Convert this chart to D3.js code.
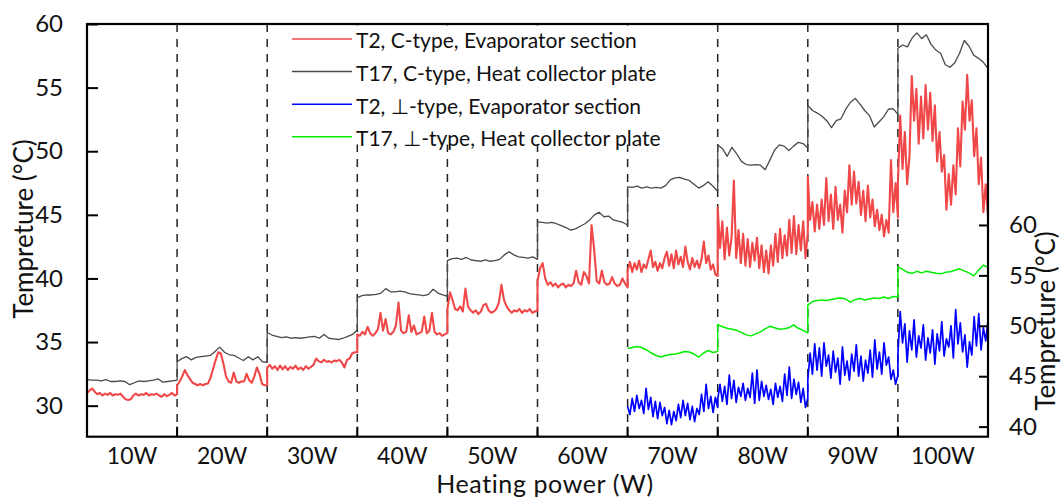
<!DOCTYPE html>
<html>
<head>
<meta charset="utf-8">
<script src="https://cdn.jsdelivr.net/npm/d3@7"></script>
<style>
  html, body { margin: 0; padding: 0; background: #fff; }
  svg text { font-family: Lato, "DejaVu Sans", sans-serif; fill: #111; }
</style>
</head>
<body>
<svg id="chart" width="1062" height="499"></svg>
<script>
// Heating power levels (one test stage each)
const powerLabels = ["10W","20W","30W","40W","50W","60W","70W","80W","90W","100W"];
const leftTicks = [30, 35, 40, 45, 50, 55, 60];
const rightTicks = [40, 45, 50, 55, 60];

// T2, C-type, evaporator section (left axis), samples per power stage
const t2C = [
  [31.0,31.2,31.35,31.1,30.9,31.0,30.8,30.95,30.85,31.0,30.8,30.9,30.85,30.95,30.7,30.5,30.45,30.5,30.8,30.95,30.8,30.9,30.85,31.0,30.8,30.9,30.85,30.95,30.8,30.7,30.9,30.75,30.85,31.0,30.8,30.9],
  [31.6,31.9,32.3,32.8,32.4,32.1,31.8,31.7,31.6,31.7,31.6,31.7,31.75,32.2,32.9,33.6,34.2,34.1,33.3,32.3,31.9,31.8,32.6,31.9,31.8,31.9,31.9,32.5,32.0,31.8,32.3,33.0,32.5,31.7,31.6,31.6],
  [33.0,33.2,32.9,33.1,32.8,33.15,32.85,33.1,32.8,33.05,32.9,33.15,32.85,33.0,32.8,33.1,32.9,33.05,33.2,33.7,33.5,33.4,33.6,33.45,33.5,33.4,33.55,33.5,33.6,33.4,33.0,33.6,33.7,34.1,34.2,34.2],
  [35.6,35.5,35.8,35.6,36.2,35.7,35.5,35.7,36.0,37.3,35.9,36.8,35.7,35.6,35.8,36.3,38.1,35.9,35.7,35.8,37.1,35.8,36.3,35.6,35.7,35.8,37.0,35.7,35.9,37.3,35.8,35.6,35.7,35.5,35.6,35.7],
  [37.6,38.9,38.3,37.6,37.5,37.8,37.4,39.2,37.8,37.5,37.3,37.5,37.2,37.4,37.9,38.0,37.5,37.3,37.4,37.6,38.1,39.5,38.3,37.8,37.5,37.3,37.5,37.4,37.6,37.3,37.5,37.4,37.6,37.3,37.4,37.5],
  [39.8,40.8,41.2,40.0,39.5,39.7,39.4,39.6,39.3,39.5,39.6,39.3,39.5,39.4,39.6,40.6,39.7,39.5,40.5,40.2,39.6,44.2,42.3,39.8,39.6,40.6,39.7,39.5,39.6,40.1,39.6,39.4,39.5,40.0,39.6,39.3],
  [40.6,41.3,40.5,41.2,40.7,41.4,40.5,41.1,40.8,41.5,42.2,40.9,41.3,40.6,41.2,40.8,41.6,42.1,41.0,41.9,40.8,42.2,41.1,41.7,40.9,42.5,41.3,40.7,41.6,40.9,41.4,40.8,41.5,42.9,41.2,41.8,40.7,41.1,40.3,40.2],
  [45.6,42.4,44.5,41.5,44.0,41.8,43.2,47.7,41.6,43.8,41.2,43.5,41.0,43.1,40.9,42.8,41.4,43.2,40.8,42.6,40.5,42.2,40.4,42.6,41.0,43.5,41.3,43.9,41.6,43.4,41.8,44.6,42.0,44.9,41.9,44.2,42.2,44.5,41.6,43.6],
  [48.0,44.6,46.0,43.7,45.8,43.9,46.2,44.2,47.9,44.5,46.6,43.9,47.2,44.6,45.8,43.6,46.9,45.2,48.9,45.8,48.4,45.9,47.6,45.0,46.9,44.5,47.3,44.8,46.2,44.1,45.4,43.8,45.0,43.3,44.6,43.6,49.3,45.2,47.5,44.8],
  [47.5,52.8,48.6,51.5,47.4,49.6,55.9,52.4,54.9,50.6,54.3,51.0,55.2,51.7,54.6,50.8,53.6,49.2,51.5,48.4,49.7,45.4,48.2,45.8,48.9,46.6,51.8,48.8,53.9,51.7,56.0,52.4,54.0,49.6,51.8,47.4,49.5,45.2,47.4,44.9]
];

// T17, C-type, heat collector plate (left axis)
const t17C = [
  [32.05,32.0,32.0,31.95,32.05,31.9,31.9,31.95,31.9,31.65,31.8,31.95,31.9,31.95,32.0,32.1,31.85,31.9,31.95,32.0],
  [33.45,33.7,33.85,33.6,33.8,33.85,33.9,33.95,34.25,34.6,34.2,34.0,33.95,33.75,33.55,33.85,33.6,33.85,33.45,33.4],
  [35.75,35.55,35.45,35.35,35.4,35.3,35.35,35.3,35.35,35.4,35.45,35.3,35.6,35.3,35.25,35.2,35.3,35.45,35.6,35.95],
  [38.5,38.65,38.7,38.7,38.75,38.85,39.2,38.95,38.95,39.0,38.95,38.8,38.75,38.7,38.65,38.75,39.15,38.85,38.7,38.6],
  [41.4,41.55,41.6,41.5,41.65,41.45,41.4,41.35,41.45,41.35,41.4,41.5,41.85,42.1,41.85,41.7,41.65,41.6,41.7,41.5],
  [44.45,44.4,44.35,44.4,44.3,44.15,44.0,43.8,43.9,44.1,44.3,44.6,45.0,45.2,44.85,44.9,44.6,44.5,44.4,44.2],
  [47.2,47.15,47.25,47.1,47.2,47.1,47.15,47.1,47.3,47.75,47.9,47.95,47.8,47.7,47.4,47.1,47.3,47.6,47.25,46.85],
  [50.5,50.2,49.6,50.3,49.8,49.2,48.95,48.9,48.95,48.9,48.55,49.3,50.1,50.5,50.4,50.05,50.4,50.7,50.6,50.25],
  [53.6,53.2,53.0,52.75,52.4,51.85,52.4,52.55,53.3,53.85,54.15,53.7,53.2,52.8,51.9,52.3,52.7,53.3,53.35,52.9],
  [58.1,58.35,58.2,58.9,59.3,58.85,59.15,58.4,57.95,57.7,56.8,56.6,56.95,57.7,58.7,58.25,57.55,57.3,57.0,56.5]
];

// ⊥-type runs start at the 70W stage (right axis)
const perpFirstStage = 6;

// T2, ⊥-type, evaporator section
const t2T = [
  [42.0,41.2,42.8,41.5,43.1,41.8,42.6,41.3,43.8,41.7,42.9,41.0,42.5,40.8,42.4,41.1,41.9,40.3,41.6,40.2,41.5,40.6,42.2,40.9,42.6,41.1,42.3,40.7,42.0,40.5,41.8,41.2,43.2,41.5,44.2,41.8,43.0,41.4,42.9,41.9],
  [42.7,44.2,42.5,44.0,42.2,45.1,42.8,44.6,42.4,43.9,43.0,44.3,42.6,43.8,42.9,45.3,42.3,45.6,42.6,44.5,43.0,44.1,42.7,43.7,42.2,44.3,42.9,44.0,42.5,45.2,43.1,45.9,42.8,44.7,43.2,44.4,42.4,43.8,41.9,42.8],
  [44.6,47.3,45.2,48.2,45.6,47.8,45.0,48.3,46.0,47.1,44.8,47.5,45.4,46.8,44.2,47.9,45.1,46.5,44.6,47.2,45.5,48.1,45.0,47.0,44.5,46.6,45.3,47.6,44.9,48.6,45.7,47.4,45.2,48.3,46.1,46.9,44.7,45.6,44.2,45.1],
  [47.2,51.4,48.3,50.2,46.4,49.5,47.6,50.6,46.9,49.0,47.8,50.1,46.6,48.8,47.3,49.6,46.2,49.2,47.5,50.4,47.0,48.7,47.9,50.0,46.8,51.6,48.2,50.3,47.4,49.1,45.9,48.4,47.1,50.9,48.0,51.2,47.6,49.8,48.5,50.5]
];

// T17, ⊥-type, heat collector plate
const t17T = [
  [47.75,47.85,47.95,47.85,47.6,47.3,47.05,46.9,47.05,47.15,47.2,47.3,47.45,47.4,47.2,46.9,47.3,47.55,47.35,47.45],
  [50.1,49.9,49.75,49.65,49.55,49.35,49.1,49.0,49.2,49.4,49.7,49.95,49.8,49.65,49.7,49.8,50.1,49.75,49.55,49.3],
  [52.05,52.4,52.5,52.55,52.5,52.6,52.7,52.75,52.65,52.35,52.6,52.7,52.55,52.65,52.75,52.7,52.85,52.7,52.9,52.85],
  [55.85,55.6,55.3,55.2,55.4,55.25,55.4,55.3,55.2,55.15,55.3,55.35,55.5,55.65,55.45,55.25,54.95,55.5,56.0,55.8]
];

const legendItems = [
  { label: "T2, C-type, Evaporator section", color: "#f04848" },
  { label: "T17, C-type, Heat collector plate", color: "#4a4a4a" },
  { label: "T2, \u22A5-type, Evaporator section", color: "#0000ff" },
  { label: "T17, \u22A5-type, Heat collector plate", color: "#00ee00" }
];

// ---- layout ----
const plot = { left: 87, right: 988, top: 24, bottom: 436.7 };
const svg = d3.select("#chart");

const x = d3.scaleLinear().domain([0, powerLabels.length]).range([plot.left, plot.right]);
const yL = d3.scaleLinear().domain([27.56, 60]).range([plot.bottom, plot.top]);
const yR = d3.scaleLinear().domain([39.0, 79.93]).range([plot.bottom, plot.top]);

// each stage's samples are spread evenly across that stage's width
function toPoints(stages, firstStage) {
  const pts = [];
  stages.forEach((vals, i) => {
    const n = vals.length;
    vals.forEach((v, j) => pts.push({ t: firstStage + i + j / (n - 1), v }));
  });
  return pts;
}

svg.append("defs").append("clipPath").attr("id", "plotClip")
  .append("rect")
  .attr("x", plot.left).attr("y", plot.top)
  .attr("width", plot.right - plot.left).attr("height", plot.bottom - plot.top);

// stage separators
const bounds = d3.range(1, powerLabels.length);
svg.append("g").selectAll("line").data(bounds).join("line")
  .attr("x1", d => x(d)).attr("x2", d => x(d))
  .attr("y1", plot.top).attr("y2", plot.bottom)
  .attr("stroke", "#222").attr("stroke-width", 1.5)
  .attr("stroke-dasharray", "8,7");

// legend backdrop hides separators behind the legend block
svg.append("rect")
  .attr("x", 288).attr("y", plot.top + 1.5)
  .attr("width", 402).attr("height", 119)
  .attr("fill", "#fff");

const series = [
  { stages: t2C, first: 0, y: yL, color: legendItems[0].color, w: 2.1 },
  { stages: t17C, first: 0, y: yL, color: legendItems[1].color, w: 1.3 },
  { stages: t2T, first: perpFirstStage, y: yR, color: legendItems[2].color, w: 1.7 },
  { stages: t17T, first: perpFirstStage, y: yR, color: legendItems[3].color, w: 1.5 }
];

const lines = svg.append("g").attr("clip-path", "url(#plotClip)");
series.forEach(s => {
  const line = d3.line().x(d => x(d.t)).y(d => s.y(d.v));
  lines.append("path")
    .datum(toPoints(s.stages, s.first))
    .attr("d", line)
    .attr("fill", "none")
    .attr("stroke", s.color)
    .attr("stroke-width", s.w)
    .attr("stroke-linejoin", "round");
});

// ---- axes ----
const leftAxis = d3.axisLeft(yL).tickValues(leftTicks).tickSize(-11).tickPadding(24);
const gL = svg.append("g").attr("transform", `translate(${plot.left},0)`).call(leftAxis);
gL.select(".domain").remove();
gL.selectAll(".tick line").attr("stroke", "#000").attr("stroke-width", 2);
gL.selectAll(".tick text").attr("font-size", 24).attr("fill", "#111")
  .attr("font-family", "Lato, sans-serif");

const rightAxis = d3.axisRight(yR).tickValues(rightTicks).tickSize(-9).tickPadding(21);
const gR = svg.append("g").attr("transform", `translate(${plot.right},0)`).call(rightAxis);
gR.select(".domain").remove();
gR.selectAll(".tick line").attr("stroke", "#000").attr("stroke-width", 2);
gR.selectAll(".tick text").attr("font-size", 24).attr("fill", "#111")
  .attr("font-family", "Lato, sans-serif");

// bottom: inward ticks at the stage boundaries, labels centred on stages
const bottomTicks = svg.append("g");
bottomTicks.selectAll("line").data(bounds).join("line")
  .attr("x1", d => x(d)).attr("x2", d => x(d))
  .attr("y1", plot.bottom - 10).attr("y2", plot.bottom)
  .attr("stroke", "#000").attr("stroke-width", 2);
svg.append("g").selectAll("text").data(powerLabels).join("text")
  .attr("x", (d, i) => x(i + 0.5))
  .attr("y", 464)
  .attr("text-anchor", "middle")
  .attr("font-size", 23)
  .text(d => d);

// frame
svg.append("rect")
  .attr("x", plot.left).attr("y", plot.top)
  .attr("width", plot.right - plot.left).attr("height", plot.bottom - plot.top)
  .attr("fill", "none").attr("stroke", "#000").attr("stroke-width", 2.2);

// axis titles
svg.append("text")
  .attr("transform", "translate(33,229) rotate(-90)")
  .attr("text-anchor", "middle").attr("font-size", 26)
  .text("Tempreture (\u00B0C)");
svg.append("text")
  .attr("transform", "translate(1055,321) rotate(-90)")
  .attr("text-anchor", "middle").attr("font-size", 26)
  .text("Tempreture (\u00B0C)");
svg.append("text")
  .attr("x", 545).attr("y", 493)
  .attr("text-anchor", "middle").attr("font-size", 25)
  .attr("letter-spacing", 0.6)
  .text("Heating power (W)");

// legend
const lg = svg.append("g");
legendItems.forEach((d, i) => {
  const ly = 39 + i * 32.6;
  lg.append("line")
    .attr("x1", 292).attr("x2", 352).attr("y1", ly).attr("y2", ly)
    .attr("stroke", d.color).attr("stroke-width", 1.5);
  lg.append("text")
    .attr("x", 356).attr("y", ly + 9.3)
    .attr("font-size", 21)
    .text(d.label);
});
</script>
</body>
</html>
